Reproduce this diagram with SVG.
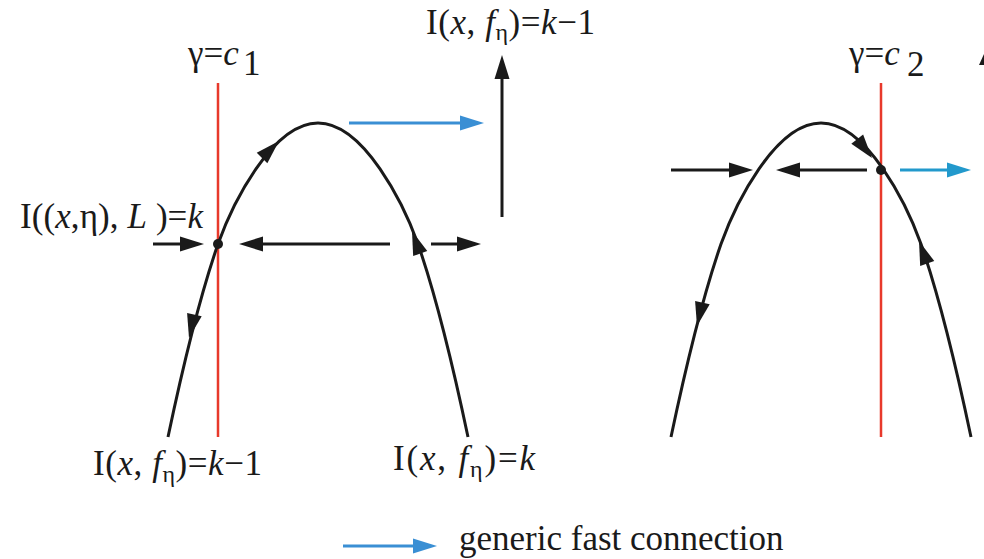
<svg xmlns="http://www.w3.org/2000/svg" xmlns:xlink="http://www.w3.org/1999/xlink" width="984" height="559" viewBox="0 0 984 559">
<style>
.crv{fill:none;stroke:#1a1a1a;stroke-width:3}
.ln{stroke:#1a1a1a;stroke-width:3}
.red{stroke:#e8392b;stroke-width:2.5}
.blue{stroke:#3a8fd4;stroke-width:3}
.blue2{stroke:#2299cc;stroke-width:3}
.ahk{fill:#1a1a1a}
.ahb{fill:#3a8fd4}
.ahb2{fill:#2299cc}
text{font-family:"Liberation Serif","Times New Roman",serif;font-size:35px;fill:#1a1a1a}
.it{font-style:italic}
</style>
<defs>
<path id="ah" d="M0,0 L-24,-7.5 L-24,7.5 Z"/>
</defs>
<rect width="984" height="559" fill="#ffffff"/>

<g id="parabola-left">
<line class="red" x1="218" y1="83" x2="218" y2="437"/>
<path class="crv" d="M168,437 C181.6,372.5 197.5,303 218,244 C232,205 272,123 318,123 C364,123 404,205 418,244 C438.5,303 454.4,372.5 468,437"/>
<circle cx="218" cy="244" r="5" fill="#1a1a1a"/>
<use xlink:href="#ah" class="ahk" transform="translate(279,141) rotate(-45)"/>
<use xlink:href="#ah" class="ahk" transform="translate(189,338) rotate(103)"/>
<use xlink:href="#ah" class="ahk" transform="translate(412,231) rotate(-110)"/>
</g>

<g id="parabola-right">
<line class="red" x1="881" y1="83" x2="881" y2="437"/>
<path class="crv" d="M671,437 C684.6,372.5 700.5,303 721,244 C735,205 775,123 821,123 C867,123 907,205 921,244 C941.5,303 957.4,372.5 971,437"/>
<circle cx="881" cy="170" r="5" fill="#1a1a1a"/>
<use xlink:href="#ah" class="ahk" transform="translate(872,158) rotate(52)"/>
<use xlink:href="#ah" class="ahk" transform="translate(697,326) rotate(103)"/>
<use xlink:href="#ah" class="ahk" transform="translate(919,241) rotate(-110)"/>
</g>

<g id="connectors">
<line class="ln" x1="153" y1="244" x2="181" y2="244"/>
<use xlink:href="#ah" class="ahk" transform="translate(204,244)"/>
<line class="ln" x1="390" y1="244" x2="261" y2="244"/>
<use xlink:href="#ah" class="ahk" transform="translate(239,244) rotate(180)"/>
<line class="ln" x1="431" y1="244" x2="458" y2="244"/>
<use xlink:href="#ah" class="ahk" transform="translate(481,244)"/>
<line class="blue" x1="349" y1="123" x2="461" y2="123"/>
<use xlink:href="#ah" class="ahb" transform="translate(484,123)"/>
<line class="ln" x1="502" y1="217" x2="502" y2="78"/>
<use xlink:href="#ah" class="ahk" transform="translate(502,55) rotate(-90)"/>
<line class="ln" x1="671" y1="170" x2="731" y2="170"/>
<use xlink:href="#ah" class="ahk" transform="translate(753,170)"/>
<line class="ln" x1="867" y1="170" x2="798" y2="170"/>
<use xlink:href="#ah" class="ahk" transform="translate(776,170) rotate(180)"/>
<line class="blue2" x1="900" y1="170" x2="949" y2="170"/>
<use xlink:href="#ah" class="ahb2" transform="translate(971,170)"/>
<polygon class="ahk" points="984,54 979,65 984,65"/>
</g>

<g id="labels">
<text x="426" y="34" textLength="169" lengthAdjust="spacing">I(<tspan class="it">x</tspan>, <tspan class="it">f</tspan><tspan font-size="24" dy="6">η</tspan><tspan dy="-6">)=</tspan><tspan class="it">k</tspan>−1</text>
<text x="188" y="65">γ=<tspan class="it">c</tspan></text>
<text x="243" y="75" font-size="27">1</text>
<text x="849" y="65">γ=<tspan class="it">c</tspan></text>
<text x="907" y="76" font-size="27">2</text>
<text x="20" y="228" textLength="183" lengthAdjust="spacing">I((<tspan class="it">x</tspan>,η), <tspan class="it">L</tspan> )=<tspan class="it">k</tspan></text>
<text x="93" y="475" textLength="169" lengthAdjust="spacing">I(<tspan class="it">x</tspan>, <tspan class="it">f</tspan><tspan font-size="24" dy="7">η</tspan><tspan dy="-7">)=</tspan><tspan class="it">k</tspan>−1</text>
<text x="393" y="470" textLength="142" lengthAdjust="spacing">I(<tspan class="it">x</tspan>, <tspan class="it">f</tspan><tspan font-size="24" dy="7">η</tspan><tspan dy="-7">)=</tspan><tspan class="it">k</tspan></text>
</g>

<g id="legend">
<line class="blue" x1="343" y1="546" x2="414" y2="546"/>
<use xlink:href="#ah" class="ahb" transform="translate(437,546)"/>
<text x="459" y="550" font-size="37.8">generic fast connection</text>
</g>
</svg>
